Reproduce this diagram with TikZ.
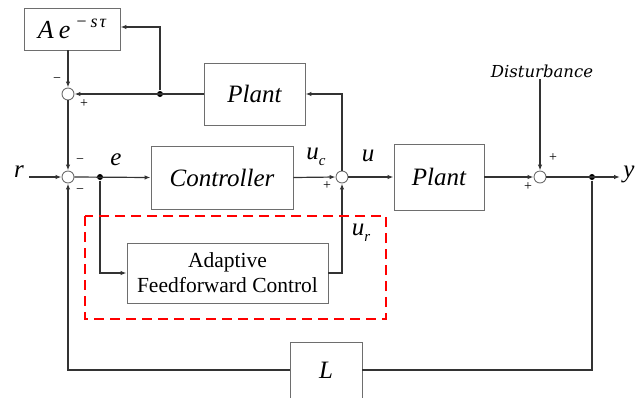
\documentclass[tikz,border=0pt]{standalone}
\usepackage{fontspec}
\setmainfont{LiberationSerif}[Extension=.ttf,UprightFont=*-Regular,
  ItalicFont=*-Italic,BoldFont=*-Bold,BoldItalicFont=*-BoldItalic]
\newfontfamily\distfont{DejaVuSerif}[Extension=.ttf,UprightFont=*,ItalicFont=*-Italic]
\usetikzlibrary{positioning,arrows.meta}
\definecolor{LineGray}{HTML}{333333}
\definecolor{BoxGray}{HTML}{6E6E6E}
\definecolor{DashRed}{HTML}{FF0000}

\begin{document}
\begin{tikzpicture}[x=1pt,y=-1pt,>={Latex[length=6pt,width=4.5pt]},
  line width=1.2pt,color=LineGray]
  \tikzstyle{blk}=[draw=BoxGray,line width=0.9pt,fill=white,inner sep=0pt,
    font=\fontsize{25}{27}\selectfont\itshape,text=black]
  \tikzstyle{sumc}=[circle,draw=BoxGray,line width=0.9pt,fill=white,
    minimum size=12pt,inner sep=0pt]
  \tikzstyle{jdot}=[circle,fill=black,minimum size=6pt,inner sep=0pt]
  \tikzstyle{sgn}=[font=\fontsize{14}{14}\selectfont,text=black,inner sep=0pt]
  \tikzstyle{lbl}=[font=\fontsize{25}{27}\selectfont\itshape,text=black,inner sep=0pt]
  \useasboundingbox (0,0) rectangle (636,397);

  % blocks
  \node[blk,minimum width=96pt,minimum height=42pt,font=\fontsize{26}{28}\selectfont\itshape]
    (delay) at (72,29)
    {A\hspace{5pt}e\hspace{5pt}\raisebox{11pt}{\fontsize{18}{19}\selectfont
      −\hspace{3pt}s\hspace{2pt}τ}};
  \node[blk,minimum width=101pt,minimum height=62pt] (plantb) at (254.5,94) {Plant};
  \node[blk,minimum width=142pt,minimum height=63pt] (ctrl) at (222,177.5) {Controller};
  \node[blk,minimum width=90pt,minimum height=66pt] (plant) at (439,177) {Plant};
  \node[blk,minimum width=201pt,minimum height=60pt,align=center,
    font=\fontsize{21.5}{25}\selectfont] (aff) at (227.5,273)
    {Adaptive\\Feedforward Control};
  \node[blk,minimum width=72pt,minimum height=56pt] (gainl) at (326,370) {L};

  % summing junctions and branch points
  \node[sumc] (s1) at (68,94) {};
  \node[sumc] (sm) at (68,177) {};
  \node[sumc] (s2) at (342,177) {};
  \node[sumc] (s3) at (540,177) {};
  \node[jdot] (d1) at (160,94) {};
  \node[jdot] (de) at (100,177) {};
  \node[jdot] (dy) at (592,177) {};
  \coordinate (rin) at (29,177);
  \coordinate (yout) at (620,177);

  % labels
  \node[lbl] (rl) at (19,172) {r};
  \node[lbl] (el) at (116,160) {e};
  \node[lbl] (ucl) at (316,157) {u\raisebox{-6pt}{\fontsize{15}{15}\selectfont c}};
  \node[lbl] (ul) at (368,156) {u};
  \node[lbl] (url) at (361,233) {u\raisebox{-6pt}{\fontsize{15}{15}\selectfont r}};
  \node[lbl] (yl) at (629,174) {y};
  \node[font=\distfont\fontsize{16.5}{18}\selectfont\itshape,text=black,inner sep=1pt]
    (dist) at (542,71) {Disturbance};
  \node[sgn] (m1) at (57,80) {−};
  \node[sgn] (p1) at (84,104) {+};
  \node[sgn] (m2) at (80,161) {−};
  \node[sgn] (m3) at (80,191) {−};
  \node[sgn] (p2) at (327,186) {+};
  \node[sgn] (p3) at (553,158) {+};
  \node[sgn] (p4) at (528,187) {+};

  % connections
  \draw[->] (s1 |- delay.south) -- (s1.north);
  \draw[->] (plantb.west) -- (s1.east);
  \draw[->] (d1) -- (d1 |- 0,27) -- (delay.east |- 0,27);
  \draw[->] (s1.south) -- (sm.north);
  \draw[->] (rin) -- (sm.west);
  \draw[->] (sm.east) -- (ctrl.west);
  \draw[->] (ctrl.east) -- (s2.west);
  \draw[->] (s2.north) |- (plantb.east);
  \draw[->] (s2.east) -- (plant.west);
  \draw[->] (plant.east) -- (s3.west);
  \draw[->] (s3 |- dist.south) -- (s3.north);
  \draw[->] (s3.east) -- (yout);
  \draw (dy) |- (gainl.east);
  \draw[->] (gainl.west) -| (sm.south);
  \draw[->] (de) |- (aff.west);
  \draw[->] (aff.east) -| (s2.south);

  % adaptive part
  \draw[DashRed,line width=2.4pt,dash pattern=on 10pt off 6pt]
    (85,216) rectangle (386,319);
\end{tikzpicture}
\end{document}
